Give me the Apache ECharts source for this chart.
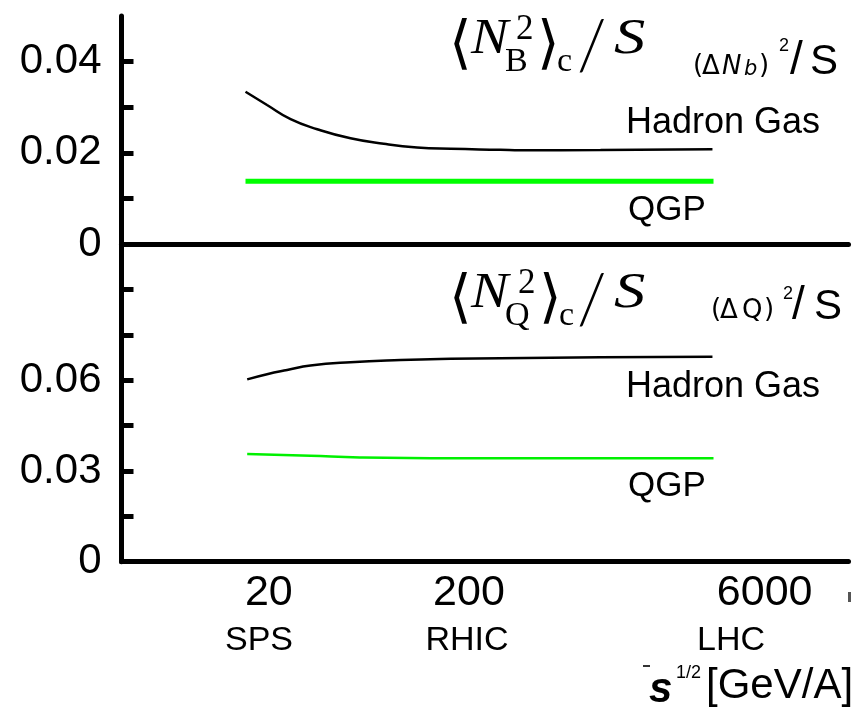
<!DOCTYPE html>
<html>
<head>
<meta charset="utf-8">
<script src="https://cdn.jsdelivr.net/npm/echarts@6/dist/echarts.min.js"></script>
<style>
  html, body { margin: 0; padding: 0; background: #fff; }
  #chart { width: 859px; height: 717px; }
</style>
</head>
<body>
<div id="chart"></div>
<script>
// Collision energy sqrt(s) [GeV/A] for each curve sample
const baryonHGEnergy = [15.3, 19.6, 25.7, 34.9, 51.2, 75.1, 110, 162, 287, 362, 908, 3290];
const baryonHG = [0.0334, 0.0305, 0.0274, 0.0252, 0.0232, 0.0220, 0.0212, 0.0209, 0.0207, 0.0206, 0.02065, 0.0208];
const baryonQGPEnergy = [15.3, 3330];
const baryonQGP = [0.0138, 0.0138];

const chargeHGEnergy = [15.6, 19.6, 24.7, 32.3, 51.2, 91, 162, 287, 908, 3290];
const chargeHG = [0.0603, 0.0620, 0.0634, 0.0649, 0.0660, 0.0667, 0.0671, 0.0673, 0.0676, 0.0678];
const chargeQGPEnergy = [15.6, 32.3, 57, 287, 3330];
const chargeQGP = [0.0356, 0.0350, 0.0345, 0.0342, 0.0342];

// Axis ticks and labels
const energyTicks = [20, 200, 6000];
const facilities = ['SPS', 'RHIC', 'LHC'];
const baryonTicks = [0.01, 0.02, 0.03, 0.04];
const baryonLabels = [0, 0.02, 0.04];
const chargeTicks = [0.015, 0.03, 0.045, 0.06, 0.075, 0.09];
const chargeLabels = [0, 0.03, 0.06];

const SANS = '"Liberation Sans", Arial, sans-serif';
const SERIF = '"Liberation Serif", "Times New Roman", serif';
const WIDE = '"DejaVu Sans", sans-serif';
const BRACKET = '"DejaVu Sans ExtraLight", "DejaVu Sans", sans-serif';

const pairs = (xs, ys) => xs.map((x, i) => [x, ys[i]]);
const pickLabel = list => v => list.some(t => Math.abs(t - v) < 1e-9) ? String(+(+v).toFixed(4)) : '';

const chart = echarts.init(document.getElementById('chart'), null, { renderer: 'canvas' });

const xAxisBase = gridIndex => ({
  type: 'log', gridIndex, min: 3.675, max: 15730,
  axisLine: { show: true, lineStyle: { color: '#000', width: 5 } },
  axisTick: { show: false }, axisLabel: { show: false },
  splitLine: { show: false }, minorSplitLine: { show: false }
});
const yAxisBase = (gridIndex, max, interval, ticks, labels) => ({
  type: 'value', gridIndex, min: 0, max, interval,
  axisLine: { show: true, lineStyle: { color: '#000', width: 5 } },
  axisTick: { show: true, inside: true, length: 12, customValues: ticks,
              lineStyle: { color: '#000', width: 5 } },
  axisLabel: { show: true, margin: 20, color: '#000', fontSize: 42, fontFamily: SANS,
               formatter: pickLabel(labels) },
  splitLine: { show: false }
});

const line = (xi, yi, data, color, width) => ({
  type: 'line', xAxisIndex: xi, yAxisIndex: yi, data, smooth: true,
  showSymbol: false, symbol: 'none', lineStyle: { color, width }, silent: true
});

chart.setOption({
  animation: false,
  backgroundColor: '#fff',
  grid: [
    { left: 121.5, top: 16, width: 727, height: 228.2 },
    { left: 121.5, top: 244.2, width: 727, height: 317.5 }
  ],
  xAxis: [xAxisBase(0), xAxisBase(1)],
  yAxis: [
    yAxisBase(0, 0.05, 0.01, baryonTicks, baryonLabels),
    yAxisBase(1, 0.105, 0.015, chargeTicks, chargeLabels)
  ],
  series: [
    line(0, 0, pairs(baryonHGEnergy, baryonHG), '#000', 2.5),
    line(0, 0, pairs(baryonQGPEnergy, baryonQGP), '#00ff00', 5),
    line(1, 1, pairs(chargeHGEnergy, chargeHG), '#000', 2.5),
    line(1, 1, pairs(chargeQGPEnergy, chargeQGP), '#00f000', 2.5)
  ]
});

function txt(text, x, y, font, align, sx) {
  const el = {
    type: 'text', x, y, silent: true,
    style: { text, font, fill: '#000',
             align: align || 'left', verticalAlign: 'middle',
             textAlign: align || 'left', textVerticalAlign: 'middle' }
  };
  if (sx) { el.scaleX = sx; }
  return el;
}

const g = [];
// energy tick labels on the log axis
energyTicks.forEach(v => {
  const px = chart.convertToPixel({ xAxisIndex: 1 }, v);
  g.push(txt(String(v), px, 593, '43px ' + SANS, 'center'));
});
// facility names
const facilityX = [259, 467, 731];
facilities.forEach((f, i) => g.push(txt(f, facilityX[i], 641, '34px ' + SANS, 'center')));
// axis title
g.push(txt('s', 649, 690, 'italic bold 42px ' + SANS));
g.push(txt('1/2', 676, 673, '18px ' + SANS));
g.push(txt('[GeV/A]', 706, 686, '42px ' + SANS));
g.push({ type: 'rect', shape: { x: 643, y: 665, width: 7, height: 2 }, style: { fill: '#333' }, silent: true });
g.push({ type: 'rect', shape: { x: 848, y: 592, width: 3, height: 10 }, style: { fill: '#555' }, silent: true });

// curve labels
g.push(txt('Hadron Gas', 626, 123, '36px ' + SANS));
g.push(txt('QGP', 628, 210, '35px ' + SANS));
g.push(txt('Hadron Gas', 626, 387, '36px ' + SANS));
g.push(txt('QGP', 628, 486, '35px ' + SANS));

// panel formulas: <N_B^2>_c / S  and  <N_Q^2>_c / S
function formula(dy, sub, supX, subX, closeX, cX) {
  g.push(txt('\u27E8', 449, 47 + dy, '58px ' + BRACKET));
  g.push(txt('N', 471, 40 + dy, 'italic 50px ' + SERIF, 'left', 1.12));
  g.push(txt('2', supX, 30 + dy, '35px ' + SERIF));
  g.push(txt(sub, subX, 62 + dy, '34px ' + SERIF));
  g.push(txt('\u27E9', closeX, 47 + dy, '58px ' + BRACKET));
  g.push(txt('c', cX, 62 + dy, '34px ' + SERIF));
  g.push(txt('/', 577, 47 + dy, '300 68px Lato, ' + SERIF));
  g.push(txt('S', 614, 40 + dy, 'italic 50px ' + SERIF, 'left', 1.25));
}
formula(0, 'B', 516, 505, 537, 557);
formula(254, 'Q', 518, 505, 539, 559);

// (ΔN_b)^2/S
g.push(txt('(', 693, 66, '26px ' + WIDE));
g.push(txt('\u0394', 702, 67, '26px ' + WIDE));
g.push(txt('N', 722, 67, 'italic 26px ' + WIDE));
g.push(txt('b', 744, 70, 'italic 21px ' + WIDE));
g.push(txt(')', 759, 66, '26px ' + WIDE));
g.push(txt('2', 779, 46, '18px ' + SANS));
g.push(txt('/', 790, 61, '46px ' + SANS));
g.push(txt('S', 810, 62.5, '42px ' + SANS));

// (ΔQ)^2/S
g.push(txt('(', 711, 310, '26px ' + WIDE));
g.push(txt('\u0394', 720, 311, '26px ' + WIDE));
g.push(txt('Q', 742, 311, '26px ' + WIDE));
g.push(txt(')', 764, 310, '26px ' + WIDE));
g.push(txt('2', 783, 294, '18px ' + SANS));
g.push(txt('/', 792, 306, '46px ' + SANS));
g.push(txt('S', 814, 307.5, '42px ' + SANS));

chart.setOption({ graphic: g });
</script>
</body>
</html>
